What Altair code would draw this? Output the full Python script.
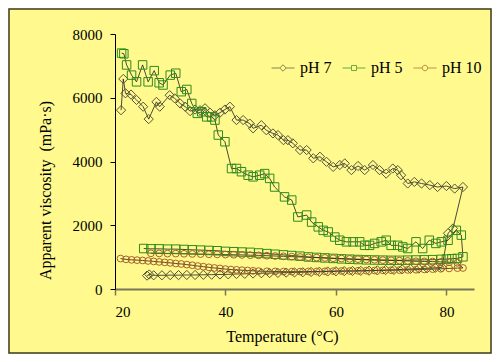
import altair as alt
import pandas as pd

# ---- data ----
series_names = ["pH 7", "pH 5", "pH 10"]

ph7_T = [21.1, 21.5, 21.9, 22.9, 23.9, 25.1, 26.1, 27.5, 28.1, 29.9, 30.8, 31.8, 32.7, 33.6,
         34.5, 35.4, 36.3, 37.2, 38.1, 39.0, 39.9, 40.8, 42.0, 43.2, 44.4, 45.0, 46.5, 47.4,
         48.6, 49.5, 50.5, 51.3, 52.2, 53.5, 54.7, 55.9, 57.1, 58.3, 59.5, 60.7, 61.6, 62.8,
         64.0, 65.2, 66.7, 67.9, 69.1, 70.3, 71.2, 71.8, 73.0, 74.2, 75.5, 77.0, 78.4, 80.0,
         81.5, 83.0,
         81.2, 80.3, 79.2, 78.0, 76.5, 75.0, 73.5, 72.0, 70.5, 69.0, 67.5, 66.0, 64.5, 63.0,
         61.5, 60.0, 58.5, 57.0, 55.5, 54.0, 52.5, 51.0, 49.5, 48.0, 46.5, 45.0, 43.5, 42.0,
         40.5, 39.0, 37.5, 36.0, 34.5, 33.0, 31.5, 30.0, 28.5, 27.0, 26.2, 25.8]
ph7_V = [5610, 6590, 6140, 6100, 5930, 5720, 5330, 5870, 5720, 6080, 5980, 5820, 5720, 5580,
         5630, 5610, 5670, 5530, 5450, 5530, 5630, 5720, 5300, 5300, 5190, 5040, 5140, 4980,
         4880, 4830, 4670, 4670, 4570, 4360, 4360, 4100, 4150, 3990, 3830, 3890, 3940, 3730,
         3860, 3730, 3890, 3730, 3620, 3780, 3730, 3570, 3310, 3360, 3310, 3260, 3200, 3230,
         3150, 3200,
         1900, 1750, 680, 665, 650, 640, 630, 615, 600, 595, 585, 575, 570, 565,
         560, 555, 550, 540, 535, 525, 520, 515, 505, 500, 495, 485, 475, 470,
         460, 455, 450, 445, 440, 440, 435, 435, 430, 430, 455, 420]

ph5_T = [21.2, 21.6, 22.1, 23.0, 23.9, 25.0, 26.0, 27.1, 28.0, 28.7, 30.0, 31.0, 32.0, 33.0,
         33.9, 34.9, 35.7, 36.6, 37.5, 38.1, 38.7, 39.9, 41.1, 42.0, 42.9, 44.1, 45.0, 46.2,
         47.1, 48.0, 48.9, 50.7, 52.0, 53.1, 54.7, 55.6, 56.8, 57.7, 58.6, 59.8, 60.7, 61.9,
         63.1, 64.3, 65.2, 66.1, 67.0, 68.2, 69.1, 70.0, 71.2, 72.1, 73.0, 74.5, 75.7, 76.9,
         78.1, 79.1, 80.3, 81.8, 82.7, 83.0,
         82.0, 81.0, 80.0, 79.0, 77.5, 76.0, 74.5, 73.0, 71.5, 70.0, 68.5, 67.0, 65.5, 64.0,
         62.5, 61.0, 59.5, 58.0, 56.5, 55.0, 53.5, 52.0, 50.5, 49.0, 47.5, 46.0, 44.5, 43.0,
         41.5, 40.0, 38.5, 37.0, 35.5, 34.0, 32.5, 31.0, 29.5, 28.0, 26.5, 25.2]
ph5_V = [7400, 7380, 7030, 6710, 6500, 7030, 6500, 6850, 6470, 6400, 6710, 6770, 6190, 6260,
         5820, 5510, 5560, 5400, 5400, 5300, 4830, 4620, 3780, 3780, 3680, 3570, 3520, 3570,
         3620, 3470, 3200, 2890, 2790, 2260, 2320, 2100, 1950, 1840, 1790, 1630, 1530, 1480,
         1480, 1480, 1370, 1370, 1430, 1480, 1530, 1370, 1370, 1320, 1270, 1480, 1270, 1530,
         1430, 1480, 1530, 1840, 1690, 1010,
         960, 950, 940, 930, 920, 915, 910, 905, 900, 900, 905, 910, 915, 925,
         935, 945, 960, 975, 990, 1005, 1030, 1050, 1070, 1090, 1110, 1130, 1150, 1160,
         1170, 1180, 1200, 1210, 1220, 1230, 1240, 1250, 1250, 1260, 1260, 1270]

ph10_T = [21.0, 22.0, 23.0, 24.0, 25.0, 26.0, 27.0, 28.0, 29.0, 30.0, 31.0, 32.0, 33.0, 34.0,
          35.0, 36.0, 37.0, 38.0, 39.0, 40.0, 41.0, 42.0, 43.0, 44.0, 45.0, 46.0, 47.5, 49.0,
          50.5, 52.0, 53.5, 55.0, 56.5, 58.0, 59.5, 61.0, 62.5, 64.0, 65.5, 67.0, 68.5, 70.0,
          71.5, 73.0, 74.5, 76.0, 77.5, 79.0, 80.5, 82.0, 83.0,
          82.0, 80.5, 79.0, 77.5, 76.0, 74.5, 73.0, 71.5, 70.0, 68.5, 67.0, 65.5, 64.0, 62.5,
          61.0, 59.5, 58.0, 56.5, 55.0, 53.5, 52.0, 50.5, 49.0, 47.5, 46.0, 44.5, 43.0, 41.5,
          40.0, 38.5, 37.0, 35.5, 34.0, 32.5, 31.0, 29.5, 28.0, 26.5]
ph10_V = [955, 930, 915, 905, 895, 880, 865, 850, 835, 820, 800, 785, 765, 745,
          720, 700, 680, 660, 645, 625, 610, 600, 590, 580, 570, 560, 555, 550,
          545, 545, 545, 550, 550, 555, 560, 565, 565, 570, 575, 580, 585, 590,
          595, 600, 605, 615, 625, 635, 645, 655, 660,
          820, 840, 850, 860, 865, 870, 880, 890, 900, 905, 915, 925, 935, 945,
          955, 965, 975, 985, 995, 1005, 1015, 1025, 1035, 1045, 1055, 1060, 1070, 1075,
          1080, 1085, 1090, 1095, 1100, 1105, 1110, 1110, 1115, 1120]

x_ticks = [20, 40, 60, 80]
y_ticks = [0, 2000, 4000, 6000, 8000]

series_colors = ["#55553c", "#2f8a1f", "#a8612a"]
series_shapes = ["diamond", "square", "circle"]
series_sizes = [85, 72, 46]
legend_paths = [
    "M-1,0H-0.28M0.28,0H1M-0.28,0L0,-0.28L0.28,0L0,0.28Z",
    "M-1,0H-0.22M0.22,0H1M-0.22,-0.22H0.22V0.22H-0.22Z",
    "M-1,0H-0.24M0.24,0H1M-0.24,0A0.24,0.24 0 1,0 0.24,0A0.24,0.24 0 1,0 -0.24,0Z",
]

rows = []
for name, ts, vs in [("pH 7", ph7_T, ph7_V), ("pH 5", ph5_T, ph5_V), ("pH 10", ph10_T, ph10_V)]:
    for i, (t, v) in enumerate(zip(ts, vs)):
        rows.append({"series": name, "T": t, "V": v, "idx": i})
df = pd.DataFrame(rows)

BG = "#FFF98E"
FONT = "Liberation Serif"

xscale = alt.Scale(domain=[20, 85], nice=False, zero=False)
yscale = alt.Scale(domain=[0, 8000], nice=False)

xaxis = alt.Axis(values=x_ticks, grid=False, title="Temperature (°C)", format="d",
                 domainColor="#77775a", domainWidth=2, tickColor="#77775a", tickWidth=1.5,
                 tickSize=6, labelPadding=9, labelFont=FONT, labelFontSize=15,
                 labelColor="black", titleFont=FONT, titleFontSize=16, titleFontWeight="normal",
                 titleColor="black", titleX=167, titleY=39, titleBaseline="top",
                 titleAlign="center")
yaxis = alt.Axis(values=y_ticks, grid=False, title="Apparent viscosity\u00a0 (mPa·s)", format="d",
                 domainColor="black", domainWidth=1, tickColor="black", tickSize=5,
                 labelPadding=8, labelFont=FONT, labelFontSize=15, labelColor="black",
                 titleFont=FONT, titleFontSize=16, titleFontWeight="normal", titleColor="black",
                 titleX=-62, titleY=156, titleAngle=270, titleAlign="center",
                 titleBaseline="bottom")

base = alt.Chart(df)

lines = base.mark_line(color="#1e1e1e", strokeWidth=0.8).encode(
    x=alt.X("T:Q", scale=xscale, axis=xaxis),
    y=alt.Y("V:Q", scale=yscale, axis=yaxis),
    detail="series:N",
    order="idx:Q",
)

point_layers = []
for name, shp, col, sz in zip(series_names, series_shapes, series_colors, series_sizes):
    point_layers.append(
        base.transform_filter(alt.datum.series == name)
        .mark_point(filled=False, strokeWidth=1.0, opacity=1, shape=shp, color=col, size=sz)
        .encode(x=alt.X("T:Q", scale=xscale), y=alt.Y("V:Q", scale=yscale))
    )

# legend-only layer: symbols drawn at size 0 in the plot, full size in the legend
legend_layer = base.mark_point(filled=False, strokeWidth=1.0, size=0).encode(
    x=alt.X("T:Q", scale=xscale),
    y=alt.Y("V:Q", scale=yscale),
    shape=alt.Shape("series:N", scale=alt.Scale(domain=series_names, range=legend_paths),
                    legend=alt.Legend(title=None, orient="none", direction="horizontal",
                                      legendX=156, legendY=22, symbolSize=529,
                                      symbolStrokeWidth=1.0, labelFont=FONT, labelFontSize=16,
                                      labelColor="black", labelOffset=5, columnPadding=8,
                                      columns=3, gridAlign="none")),
    color=alt.Color("series:N", scale=alt.Scale(domain=series_names, range=series_colors)),
)

frame_df = pd.DataFrame({"k": [0]})
frame = alt.Chart(frame_df).mark_rect(filled=False, stroke="#3a3a2a", strokeWidth=1.5).encode(
    x=alt.value(-106), x2=alt.value(376), y=alt.value(-25), y2=alt.value(319)
)

chart = alt.layer(frame, lines, *point_layers, legend_layer).properties(
    width=359, height=255,
    autosize=alt.AutoSizeParams(type="none"),
    padding={"left": 107, "top": 26, "right": 18, "bottom": 65},
    background=BG,
).configure_view(stroke=None)

chart.save("out.html", embed_options={"renderer": "svg", "actions": False})
